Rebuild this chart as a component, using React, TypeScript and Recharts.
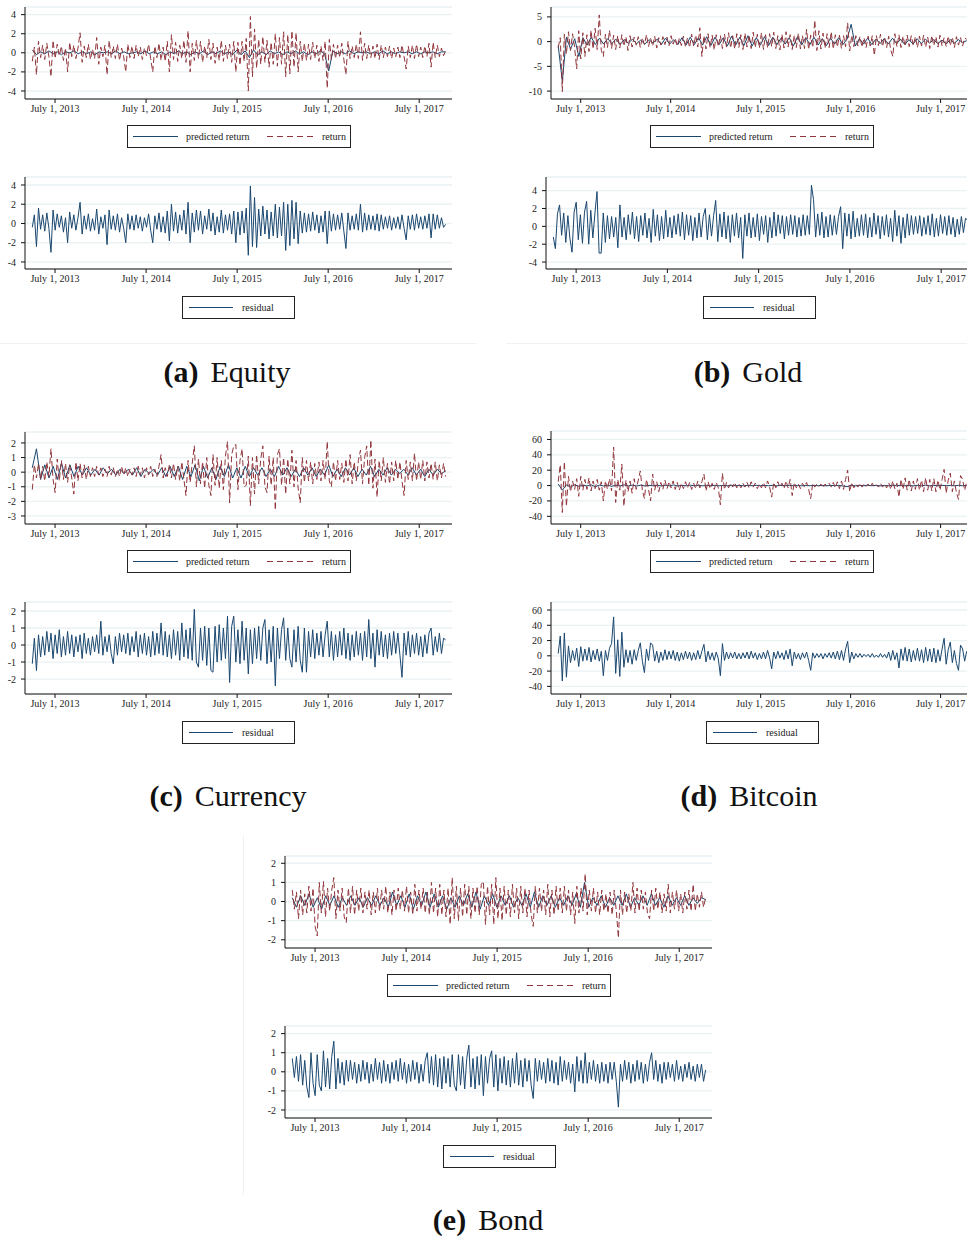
import React from 'react';
import { CartesianGrid, Line, LineChart, XAxis, YAxis } from 'recharts';

// sample dates run evenly from spring 2013 to autumn 2017
const START = 2013.25;
const END = 2017.79;
const X_DOMAIN = [2013.17, 2017.86];
const X_TICKS = [2013.5, 2014.5, 2015.5, 2016.5, 2017.5];

// Equity
const EQUITY_PRED = [
  0.3, -0.2, 0.1, -0.1, 0.2, -0.1, 0.1, -0.2, 0.1, 0.0, 0.2, -0.1, 0.1, -0.1, 0.1, -0.2, 0.1, 0.0, 0.1, -0.1,
  0.2, -0.1, 0.1, -0.1, 0.0, 0.1, -0.1, 0.2, -0.1, 0.1, -0.1, 0.1, -0.2, 0.1, -0.1, 0.2, -0.1, 0.1, -0.2, 0.1,
  -0.1, 0.2, -0.2, 0.1, -0.1, 0.2, -0.1, 0.1, -0.2, 0.3, -0.2, 0.2, -0.5, 0.3, -0.2, 0.1, -0.2, 0.2, -0.1, 0.1,
  -0.2, 0.1, -0.1, 0.2, -0.1, 0.1, -0.2, 0.1, -0.1, 0.2, -0.1, -1.9, 0.2, -0.1, 0.1, -0.1, 0.2, -0.1, 0.1, 0.0,
  0.1, -0.1, 0.1, -0.1, 0.2, -0.1, 0.1, -0.1, 0.1, 0.0, 0.1, -0.1, 0.1, -0.1, 0.1, 0.0, 0.1, -0.1, 0.1, 0.1,
];
const EQUITY_RETURN = [
  -0.9, 0.6, -2.3, 1.2, -0.5, 0.8, -0.7, 1.0, -0.4, -2.5, 1.3, -0.6, 0.9, -0.3, 0.7, -0.8, 0.5, -2.0, 1.1, -0.4,
  0.8, -0.6, 0.5, 2.1, -1.0, 0.7, -0.5, 0.9, -0.7, 0.4, -0.6, 1.6, -1.2, 0.6, -0.4, 0.8, -2.3, 1.3, -0.5, 0.7,
  -0.6, 0.9, -0.8, 0.5, -0.4, -2.0, 0.9, -0.5, 0.7, -0.6, 0.8, -0.4, 0.6, -0.7, 0.5, -0.3, 0.9, -0.6, -2.0, 0.7,
  -0.5, 1.0, -0.8, 0.6, -0.9, 1.2, -2.0, 1.9, -0.7, 1.1, -0.9, 0.8, -0.6, 1.3, -1.0, 2.3, -2.0, 1.0, -0.8, 1.3,
  -0.6, 1.2, -1.0, 0.7, -0.5, 1.4, -0.7, 1.0, -1.1, 0.6, -0.8, 1.3, -0.9, 0.8, -0.6, 0.9, -1.0, 1.2, -2.0, 1.1,
  -1.3, 1.2, -0.9, 1.5, -4.0, 3.8, -2.5, 2.5, -1.6, 1.4, -1.2, 1.7, -1.0, 1.3, -1.5, 1.1, -1.2, 2.0, -1.4, 1.6,
  -1.2, 2.2, -2.5, 1.9, -2.2, 2.3, -1.5, 2.1, -2.0, 1.2, -0.9, 1.0, -0.8, 0.9, -0.7, 1.1, -0.6, 0.8, -0.9, 0.7,
  -0.8, 1.2, -3.7, 1.4, -0.7, 0.9, -0.6, 0.8, -0.5, 1.0, -0.7, -2.3, 1.2, -0.6, 0.7, -0.5, 0.9, -0.6, 2.2, -0.8,
  1.0, -0.6, 0.8, -0.5, 0.7, -0.6, 0.9, -0.7, 0.8, -0.5, 0.6, -0.4, 0.7, -0.6, 0.5, -0.4, 0.6, -0.5, 0.8, -0.4,
  -1.7, 0.7, -0.5, 0.8, -0.6, 0.9, -0.4, 0.6, -0.5, 0.7, -0.4, 1.0, -1.5, 1.1, -0.5, 0.8, -0.4, 0.5, -0.3, 0.2,
];
const EQUITY_RESID = [
  -0.4, 0.9, -2.4, 1.6, -0.6, 0.9, -0.8, 1.1, -0.5, -3.0, 1.4, -0.7, 1.0, -0.4, 0.8, -0.9, 0.6, -2.0, 1.2, -0.5,
  0.9, -0.7, 0.6, 2.2, -1.1, 0.8, -0.6, 1.0, -0.8, 0.5, -0.7, 1.5, -1.1, 0.7, -0.5, 0.9, -2.2, 1.4, -0.6, 0.8,
  -0.7, 1.0, -0.9, 0.6, -0.5, -2.0, 1.0, -0.6, 0.8, -0.7, 0.9, -0.5, 0.7, -0.8, 0.6, -0.4, 1.0, -0.7, -2.0, 0.8,
  -0.6, 1.1, -0.9, 0.7, -1.0, 1.3, -1.8, 2.0, -0.8, 1.2, -1.0, 0.9, -0.7, 1.4, -1.1, 2.2, -2.0, 1.1, -0.9, 1.4,
  -0.7, 1.3, -1.1, 0.8, -0.6, 1.5, -0.8, 1.1, -1.2, 0.7, -0.9, 1.4, -1.0, 0.9, -0.7, 1.0, -1.1, 1.3, -2.0, 1.2,
  -1.2, 1.3, -1.0, 1.6, -3.3, 3.9, -2.4, 2.7, -2.5, 1.5, -1.3, 1.8, -1.1, 1.4, -1.6, 1.2, -1.3, 2.0, -1.5, 1.7,
  -1.3, 2.2, -2.8, 2.0, -2.3, 2.4, -1.6, 2.2, -2.1, 1.3, -1.0, 1.1, -0.9, 1.0, -0.8, 1.2, -0.7, 0.9, -1.0, 0.8,
  -0.9, 1.3, -2.1, 1.3, -0.8, 1.0, -0.7, 0.9, -0.6, 1.1, -0.8, -2.6, 1.1, -0.7, 0.8, -0.6, 1.0, -0.7, 2.0, -0.9,
  1.1, -0.7, 0.9, -0.6, 0.8, -0.7, 1.0, -0.8, 0.9, -0.6, 0.7, -0.5, 0.8, -0.7, 0.6, -0.5, 0.7, -0.6, 0.9, -0.5,
  -1.7, 0.8, -0.6, 0.9, -0.7, 1.0, -0.5, 0.7, -0.6, 0.8, -0.5, 1.0, -1.5, 1.0, -0.6, 0.9, -0.5, 0.6, -0.4, -0.1,
];

// Gold
const GOLD_PRED = [
  -0.8, -8.0, 0.9, -1.5, 0.6, -3.0, 0.8, -0.7, 0.9, -0.6, 0.7, -0.5, 0.6, -0.4, 0.5, -0.6, 0.4, -0.3, 0.5, -0.4,
  0.3, -0.5, 0.4, -0.3, 0.5, -0.6, 0.7, -0.5, 0.4, -0.6, 0.8, -0.7, 0.9, -0.6, 0.8, -0.7, 1.0, -0.8, 0.9, -0.6,
  0.8, -0.9, 1.1, -0.7, 0.9, -0.8, 1.2, -0.9, 0.8, -0.7, 1.0, -0.8, 0.9, -0.6, 0.7, -0.5, 0.8, -0.9, 1.0, -0.7,
  0.8, -0.6, 0.9, -0.7, 0.6, -0.8, 0.7, -0.5, 0.8, -0.6, 0.5, 3.5, -0.9, 0.6, -0.5, 0.7, -0.6, 0.5, -0.4, 0.6,
  -0.5, 0.7, -0.4, 0.5, -0.6, 0.4, -0.5, 0.6, -0.4, 0.5, -0.3, 0.4, -0.4, 0.3, -0.5, 0.4, -0.3, 0.4, -0.2, 0.2,
];
const GOLD_RETURN = [
  -1.2, 0.8, -10.1, 1.5, -2.5, 2.0, -1.8, 1.6, -1.2, -5.5, 2.2, -3.5, 1.8, -3.0, 1.4, -2.0, 2.3, -1.5, 2.7, -1.6,
  5.4, -1.8, -3.0, 1.5, -1.2, 2.3, -1.4, 1.3, -1.6, 1.2, -1.3, 1.4, -0.9, 1.0, -1.8, 1.2, -1.1, 0.9, -0.7, 1.0,
  -1.2, 0.8, -0.6, 1.4, -1.0, 0.7, -0.9, 1.1, -1.3, 0.8, -0.7, 1.0, -0.6, 0.9, -0.8, 1.2, -0.5, 0.7, -0.9, 0.6,
  -0.8, 1.1, -1.0, 0.8, -1.2, 1.5, -0.9, 1.3, -1.1, 2.8, -3.0, 1.2, -1.5, 1.6, -1.2, 1.3, -1.7, 1.4, -1.0, 1.2,
  -1.4, 1.5, -1.1, 1.8, -1.3, 1.2, -1.5, 1.6, -1.2, 1.4, -1.6, 1.7, -1.1, 1.3, -1.4, 1.9, -1.2, 1.5, -1.3, 1.8,
  -1.6, 1.4, -1.2, 1.6, -1.0, 1.9, -1.4, 1.2, -1.7, 1.5, -1.3, 2.0, -1.1, 1.4, -1.6, 1.3, -1.2, 1.7, -1.5, 1.2,
  -1.4, 2.5, -1.6, 1.3, -1.2, 4.3, -1.8, 2.2, -1.5, 1.7, -1.3, 1.6, -1.2, 2.0, -1.5, 1.4, -1.1, 1.3, -1.4, 1.2,
  -1.0, 3.8, -1.9, 1.3, -1.0, 1.2, -0.9, 1.0, -1.1, 0.8, -1.2, 1.1, -0.9, 1.2, -2.8, 1.2, -0.8, 1.5, -1.0, 0.9,
  -1.2, 1.1, -1.7, -3.0, 1.6, -1.0, 1.4, -1.2, 1.1, -0.9, 1.3, -1.0, 1.2, -0.8, 1.0, -1.2, 1.1, -0.9, 1.3, -1.1,
  0.9, -1.4, 1.2, -0.8, 1.0, -1.1, 1.3, -0.9, 0.8, -1.0, 1.1, -0.8, 0.9, -1.2, 1.0, -0.7, 0.8, -0.9, 0.7, 0.5,
];
const GOLD_RESID = [
  -1.2, -2.5, 1.4, 2.4, -1.0, 1.5, -1.8, 1.2, -1.4, -2.9, 1.6, 2.7, -1.5, 1.3, -1.9, 1.6, 2.8, -2.0, 1.8, -1.3,
  1.5, 3.9, -3.0, -3.0, 1.5, -1.8, 1.2, -1.4, 1.1, -1.2, 1.0, -2.4, 2.4, -1.2, 1.0, -1.5, 1.3, -0.9, 1.6, -1.4,
  1.1, -1.7, 1.2, -1.0, 1.5, -1.3, 0.9, -1.8, 1.9, -1.1, 1.3, -1.6, 1.1, -1.4, 1.8, -1.2, 1.0, -1.3, 1.2, -0.9,
  1.4, -1.1, 1.6, -1.5, 1.3, -1.0, 1.2, -1.6, 1.0, -1.3, 1.5, -1.2, 1.1, 2.0, -1.5, 1.3, -1.1, 1.2, 2.9, -1.7,
  1.4, -1.2, 1.6, -1.4, 1.2, -1.8, 1.3, -1.1, 1.5, -1.3, 1.0, -3.6, 1.3, -1.1, 1.5, -1.3, 1.0, -1.2, 1.4, -1.6,
  1.1, -0.9, 1.2, -1.8, 1.0, -1.3, 1.6, -1.1, 1.3, -0.8, 1.2, -1.4, 1.1, -1.0, 1.3, -0.9, 1.2, -1.2, 1.0, -1.1,
  1.3, -1.0, 1.2, -0.9, 4.6, 3.0, -1.2, 1.4, -1.0, 1.6, -1.3, 1.1, -1.2, 1.3, -1.0, 1.2, -0.9, 1.1, 2.2, -2.5,
  1.5, -1.1, 1.4, -1.4, 1.7, -1.2, 0.9, -1.1, 1.3, -1.0, 1.4, -1.3, 1.0, -1.2, 1.5, -0.9, 1.2, -1.4, 1.1, -1.0,
  1.3, -1.2, 0.9, -1.7, 1.8, -1.1, 1.2, -1.9, 1.0, -1.3, 1.4, -1.0, 1.2, -0.9, 1.1, -0.8, 1.2, -1.1, 1.0, -0.9,
  1.2, -1.0, 1.4, -1.2, 0.9, -1.1, 1.3, -0.8, 1.1, -1.0, 1.2, -0.9, 1.0, -1.2, 0.8, -0.9, 1.1, -0.7, 0.9, 0.7,
];

// Currency
const CURRENCY_PRED = [
  0.3, 1.6, -0.5, 0.5, -0.4, 0.4, -0.5, 0.6, -0.4, 0.5, -0.3, 0.4, -0.2, 0.3, -0.2, 0.2, -0.2, 0.3, -0.1, 0.2,
  -0.2, 0.2, -0.1, 0.2, -0.2, 0.3, -0.3, 0.2, -0.1, 0.2, -0.2, 0.3, -0.3, 0.4, -0.3, 0.4, -0.5, 0.4, -0.3, 0.5,
  -0.6, 0.4, -0.4, 0.3, -0.5, 0.4, -0.3, 0.5, -0.4, 0.3, -0.4, 0.4, -0.3, 0.3, -0.2, 0.3, -0.3, 0.2, -0.3, 0.4,
  -0.2, 0.3, -0.3, 0.2, -0.3, 0.3, -0.2, 0.3, -0.3, 0.2, -0.2, 0.5, -0.3, 0.2, -0.3, 0.3, -0.2, 0.3, -0.3, 0.2,
  -0.2, 0.4, -0.3, 0.2, -0.2, 0.3, -0.2, 0.2, -0.1, 0.2, -0.2, 0.3, -0.2, 0.2, -0.3, 0.2, -0.2, 0.2, -0.1, 0.1,
];
const CURRENCY_RETURN = [
  -1.2, 0.5, -0.4, 0.6, -0.5, 0.4, -0.6, 0.7, -0.3, 1.6, -0.5, -1.4, 0.9, -0.6, 0.8, -0.5, 0.6, -0.7, 0.5, -0.4,
  -1.5, 0.7, -0.6, 0.6, -0.4, 0.5, -0.5, 0.4, -0.3, 0.3, -0.3, 0.4, -0.2, 0.3, -0.3, 0.2, -0.3, 0.4, -0.2, 0.3,
  -0.3, 0.2, -0.3, 0.4, -0.2, 0.3, -0.3, 0.2, -0.2, 0.3, -0.3, 0.4, -0.2, 0.3, -0.4, 0.3, -0.2, 0.4, -0.3, 0.2,
  -0.3, 0.4, 1.2, -0.4, 0.3, -0.3, 0.5, -0.4, 0.6, -0.5, 0.4, -0.6, 0.7, -0.5, -1.6, 0.8, -0.7, 0.6, 1.8, -1.0,
  0.9, -0.8, 0.7, -1.1, 1.0, -0.9, -1.6, 1.2, -0.9, 1.0, -1.1, 0.8, -1.2, 1.1, 2.1, -2.1, 1.2, 1.8, 1.9, -1.2,
  0.8, 1.6, -1.0, -0.9, 1.1, -2.3, 1.0, -1.5, 1.2, -0.8, 0.9, 1.8, -1.0, -1.4, 1.1, -0.9, 1.0, -2.6, 1.2, 1.6,
  -0.9, 1.0, -1.5, 0.9, -0.8, 1.5, -1.0, 0.8, -1.1, -2.1, 1.0, -0.7, 0.8, -0.6, 0.7, -0.8, 0.6, -0.5, 0.7, -0.6,
  0.8, -0.5, 2.1, -0.6, -1.0, 0.7, -0.6, 0.8, -0.5, 0.6, -0.7, 0.9, -0.6, 1.2, -0.8, 0.7, -0.6, 0.8, 1.5, -0.8,
  1.0, 1.8, -0.9, 2.2, -1.1, 0.9, -1.7, 0.8, -0.6, 1.0, -0.7, 0.6, -0.8, 0.7, -0.6, 0.8, -0.5, 0.7, -0.6, -1.6,
  0.8, -0.5, 0.7, -0.6, 1.3, -0.6, 0.7, -0.5, 0.8, -0.6, 0.7, -0.4, 0.6, -0.5, 0.7, -0.6, 0.5, -0.4, 0.6, -0.3,
];
const CURRENCY_RESID = [
  -1.1, 0.4, -1.5, 0.6, -0.7, 0.5, -0.6, 0.8, -0.4, 0.7, -0.8, 0.6, -0.5, 0.9, -0.7, 0.5, -0.6, 0.8, -0.5, 0.6,
  -0.7, 0.5, -0.4, 0.6, -0.8, 0.7, -0.5, 0.4, -0.6, 0.5, -0.4, 0.6, -0.5, 1.4, -0.6, 0.5, -0.4, 0.6, -0.5, -1.1,
  0.5, -0.6, 0.7, -0.4, 0.6, -0.5, 0.7, -0.6, 0.5, -0.4, 0.8, -0.7, 0.6, -0.5, 0.7, -0.6, 0.5, -0.7, 0.8, -0.6,
  0.7, -0.5, 1.3, -0.6, 0.8, -0.7, 0.6, -0.8, 0.9, -0.6, 0.8, -0.9, 1.3, -0.7, 0.9, -0.8, 1.0, -0.9, 2.1, -1.0,
  -1.3, 1.0, -0.9, 1.1, -1.2, 1.0, -1.5, -1.6, 1.1, -1.0, 1.2, -0.9, 1.0, -0.8, 1.7, -2.2, 1.1, 1.7, -1.0, 0.9,
  -1.1, 1.4, -0.9, 1.0, -1.7, 0.9, -1.1, 1.0, -0.8, 1.1, -0.9, 1.0, 1.5, -1.1, 0.9, -1.0, 1.1, -2.4, 1.0, -0.8,
  0.9, 1.6, -0.9, 1.0, -0.8, -1.3, 0.9, -1.0, 1.1, -0.9, -1.6, 1.0, -1.6, 0.8, -0.7, 0.9, -0.8, 0.7, -0.6, 0.8,
  -0.7, 0.6, 1.4, -0.7, 0.8, -0.9, 0.6, -0.7, 0.8, -0.6, 1.0, -0.8, 0.7, -0.9, 0.6, -0.7, 0.8, -0.6, 0.7, -0.9,
  0.8, -0.7, 1.5, -0.8, 0.7, -1.3, 0.9, -0.6, 0.8, -0.7, 0.6, -0.8, 0.7, -0.6, 0.8, -0.5, 0.7, -0.6, -1.9, 0.7,
  -0.6, 0.8, -0.7, 0.6, -0.5, 0.7, -0.6, 0.5, -0.7, 0.6, -0.5, 0.7, 1.0, -0.6, 0.5, -0.4, 0.7, -0.5, 0.4, 0.3,
];

// Bitcoin
const BITCOIN_PRED = [
  2, -6, 1, -2, 1, -1, 0.5, -0.5, 1, -1.5, 0.5, -0.5, 0.5, -1, 0.5, -0.5, 1, -0.5, 0.5, -0.5,
  0.5, -0.5, 0.3, -0.3, 0.5, -0.5, 0.3, -0.3, 0.8, -0.5, 0.3, -0.3, 0.5, -0.3, 0.3, -0.3, 0.2, -0.2, 0.3, -0.3,
  0.2, -0.2, 0.3, -0.2, 0.2, -0.3, 0.2, -0.2, 0.3, -0.2, 0.2, -0.2, 0.3, -0.3, 0.2, -0.2, 0.3, -0.2, 0.2, -0.3,
  0.2, -0.2, 0.3, -0.2, 0.2, -0.3, 0.2, -0.2, 0.3, -0.5, -1.5, 0.3, -0.3, 0.2, -0.2, 0.3, -0.2, 0.2, -0.3, 0.2,
  -0.2, 0.3, -0.3, 0.4, -0.3, 0.3, -0.4, 0.3, -0.3, 0.4, -0.3, 0.3, -0.2, 0.3, -0.2, 0.2, -0.3, 0.3, -0.2, 0.2,
];
const BITCOIN_RETURN = [
  5, 27, -35, 31, -27, 12, -8, 6, -5, 9, -14, 12, -6, 8, -5, 10, -7, 6, -4, 8,
  -6, 5, -20, 6, -5, 9, -7, 50, -22, 8, -6, 28, -27, 7, -8, 6, -10, 9, -5, 7,
  19, -6, -17, 8, -5, -20, 15, -6, 5, -8, 4, -5, 7, -4, 5, -3, 6, -5, 4, -6,
  3, -4, 5, -3, 4, -5, 3, -4, 6, -3, 5, 15, -7, 5, -4, 3, -5, 4, -3, -25,
  16, -5, 4, -3, 3, -2, 4, -3, 2, -3, 3, -2, 4, -3, 5, -2, 3, -4, 2, -3,
  4, -3, 6, -2, -15, 4, -3, 5, -2, 3, -4, 6, -3, 8, -13, 4, -3, 2, -4, 3,
  -2, 4, -5, -17, 3, -2, 2, -1, 2, -3, 2, -1, 3, -2, 4, -3, 5, -4, 6, -5,
  8, 20, -8, 4, -3, 2, -2, 3, -2, 2, -1, 2, -2, 3, -2, 1, -2, 3, -2, 2,
  -3, 4, -5, 6, -4, 3, -15, 8, -5, 10, -6, 8, -7, 6, -5, 9, -6, 7, -8, 10,
  -6, 8, -7, 9, -8, 7, -6, 8, 21, -10, 7, 16, -8, 6, -9, -18, 13, 8, -6, 5,
];
const BITCOIN_RESID = [
  3, 26, -33, 30, -28, 13, -9, 7, -6, 10, -14, 12, -7, 9, -6, 11, -8, 7, -5, 9,
  -7, 6, -26, 7, -6, 10, 16, 51, -23, 21, -27, 31, -15, 8, -9, 7, -11, 8, -6, 7,
  17, -7, -22, 9, -6, 17, 14, -7, 6, -9, 5, -6, 8, -5, 6, -4, 7, -6, 5, -7,
  4, -5, 6, -4, 5, -6, 4, -5, 7, -4, 6, 15, -8, 6, -5, 4, -6, 5, -4, -26,
  16, -6, 5, -4, 4, -3, 5, -4, 3, -4, 4, -3, 5, -4, 6, -3, 4, -5, 3, -4,
  5, -4, 7, -3, -17, 5, -4, 6, -3, 4, -5, 7, -4, 9, -13, 5, -4, 3, -5, 4,
  -3, 5, -6, -19, 4, -3, 3, -2, 3, -4, 3, -2, 4, -3, 5, -4, 6, -5, 7, -6,
  9, 19, -9, 5, -4, 3, -2, 3, -2, 2, -1, 2, -2, 3, -2, 1, -2, 3, -2, 2,
  -3, 5, -6, 7, -5, 4, -16, 9, -6, 11, -7, 9, -8, 7, -6, 10, -7, 8, -9, 11,
  -7, 9, -8, 10, -9, 8, -7, 9, 23, -11, 8, 18, -9, 7, -10, -19, 14, 9, -7, 6,
];

// Bond
const BOND_PRED = [
  0.2, -0.3, 0.3, -0.2, 0.4, -0.3, 0.2, -0.4, 0.3, -0.2, 0.3, -0.3, 0.2, -0.2, 0.3, -0.2, 0.2, -0.3, 0.2, -0.2,
  0.3, -0.2, 0.2, -0.3, 0.5, -0.2, 0.3, -0.3, 0.4, -0.4, 0.3, -0.2, 0.5, -0.3, 0.4, -0.3, 0.3, -0.4, 0.2, -0.3,
  0.3, -0.2, 0.4, -0.3, 0.5, -0.4, 0.3, -0.2, 0.4, -0.3, 0.3, -0.2, 0.3, -0.3, 0.2, -0.2, 0.4, -0.3, 0.5, -0.3,
  0.3, -0.2, 0.3, -0.3, 0.2, -0.2, 0.3, -0.2, 0.4, -0.3, 1.0, -0.3, 0.2, -0.2, 0.3, -0.3, 0.2, -0.2, 0.3, -0.2,
  0.4, -0.3, 0.2, -0.2, 0.3, -0.2, 0.4, -0.2, 0.2, -0.3, 0.3, -0.2, 0.2, -0.2, 0.3, -0.2, 0.2, -0.1, 0.2, 0.1,
];
const BOND_RETURN = [
  0.6, -0.4, 0.5, -0.9, 0.6, -0.7, 0.4, -0.6, 0.8, -0.5, 0.7, -1.3, -1.8, 1.0, -0.6, 1.05, -0.8, 0.7, -0.5, 0.6,
  1.25, -0.9, 0.6, -0.5, 0.7, -0.8, -1.1, 0.7, -0.6, 0.8, -0.7, 0.6, -0.5, 0.7, -0.6, 0.5, -0.4, 0.6, -0.7, 0.5,
  -0.6, 0.7, -0.5, 0.6, -0.4, 0.8, -0.6, 0.5, -0.7, 0.6, -0.5, 0.7, -0.4, 0.6, -0.5, 0.8, -0.6, 0.5, -0.7, 0.9,
  -0.5, 0.6, -0.4, 0.7, -0.6, 0.5, -0.7, 1.0, -0.6, 0.7, -0.8, 0.9, -0.7, 0.6, -0.8, 0.7, -1.2, 1.25, -0.9, 0.8,
  -1.0, 0.7, -0.8, 0.9, -0.7, 0.8, -0.9, 0.7, -0.6, 0.8, -0.7, 0.9, 1.05, -1.2, 0.8, -0.7, 0.9, -1.2, 1.25, -0.9,
  0.7, -1.0, 0.8, -0.7, 0.6, -0.8, 0.9, -0.6, 0.7, -0.9, 0.8, -0.6, 0.7, -0.8, 0.6, -0.7, -1.3, 0.8, -0.6, 0.7,
  -0.5, 0.6, -0.7, 0.9, -0.8, 0.6, -0.7, 0.8, -0.5, 0.7, -0.6, 0.8, -0.5, 0.6, -0.7, 0.5, -1.15, 0.8, -0.6, 0.7,
  -0.5, 1.45, -0.7, 0.6, -0.5, 0.7, -0.6, 0.5, -0.7, 0.6, -0.5, 0.4, -0.6, 0.5, -0.7, 0.6, -0.5, -1.9, 0.6, -0.7,
  0.5, -0.6, 0.4, -0.5, 1.0, -0.6, 0.7, -0.5, 0.6, -0.4, 0.5, -0.6, -0.9, 0.6, -0.5, 0.7, -0.4, 0.5, -0.6, 0.4,
  -0.5, 0.9, -0.6, 0.5, -0.4, 0.6, -0.5, 0.4, -0.6, 0.5, -0.4, 0.6, -0.5, 0.9, -0.5, 0.4, -0.3, 0.5, -0.3, 0.2,
];
const BOND_RESID = [
  0.7, -0.3, 0.8, -0.5, 0.9, -0.7, 0.6, -0.8, -1.35, 1.0, -0.6, -1.25, 0.9, -0.7, -1.0, 1.1, -0.8, 0.7, -0.9, 0.8,
  1.6, -0.9, 0.7, -0.6, 0.5, -0.7, 0.6, -0.5, 0.6, -0.4, 0.5, -0.6, 0.4, -0.5, 0.6, -0.4, 0.5, -0.6, 0.4, -0.5,
  0.7, -0.4, 0.5, -0.6, 0.6, -0.5, 0.4, -0.6, 0.5, -0.4, 0.6, -0.5, 0.7, -0.4, 0.5, -0.6, 0.4, -0.5, 0.6, -0.4,
  0.5, -0.6, 0.4, -0.5, 0.6, 1.0, -0.6, 0.8, -0.7, 0.9, -0.8, 0.7, -0.9, 0.8, -0.6, 0.7, -0.8, 0.9, -0.7, -1.0,
  0.9, -0.7, 0.8, -0.9, 0.7, 1.4, -0.8, 0.7, -0.9, 0.8, -0.7, 0.9, -1.25, 0.8, -0.6, 0.7, 1.1, -0.8, 0.9, -1.0,
  0.7, -0.6, 0.8, -0.7, 0.6, -0.8, 0.7, -0.6, 1.0, -0.7, 0.6, -0.8, 0.7, -0.5, 0.6, -0.7, -1.4, 0.7, -0.5, 0.6,
  -0.4, 0.5, -0.6, 0.7, -0.5, 0.6, -0.6, 0.5, -0.7, 0.8, -0.5, 0.6, -0.4, 0.5, -0.6, 0.4, -1.05, 0.8, -0.5, 0.6,
  -0.6, 1.0, -0.6, 0.5, -0.4, 0.6, -0.5, 0.4, -0.6, 0.5, -0.5, 0.4, -0.6, 0.5, -0.4, 0.5, -0.5, -1.85, 0.4, -0.5,
  0.6, -0.4, 0.5, -0.6, 0.4, -0.5, 0.6, -0.4, 0.5, -0.6, 0.4, -0.5, 0.5, 1.0, -0.4, 0.6, -0.5, 0.4, -0.6, 0.5,
  -0.4, 0.5, -0.3, 0.4, -0.5, 0.6, -0.4, 0.3, -0.5, 0.4, -0.3, 0.5, -0.4, 0.3, -0.5, 0.4, -0.3, 0.4, -0.5, 0.1,
];

const FONT = '"Liberation Serif", "Times New Roman", serif';
const NAVY = '#1a476f';
const MAROON = '#90353b';
const GRID = '#eaf2f3';

const Y_AXIS_W = 40;
const X_AXIS_H = 26;
const PAD_TOP = 4;

const toRows = (values: number[]) =>
  values.map((v, i) => ({ t: START + (i * (END - START)) / (values.length - 1), v }));

type Series = { values: number[]; color: string; dashed?: boolean };

interface PanelProps {
  axisX: number;
  top: number;
  bottom: number;
  plotW?: number;
  yDomain: [number, number];
  yTicks: number[];
  series: Series[];
}

const TimePanel: React.FC<PanelProps> = ({ axisX, top, bottom, plotW = 427, yDomain, yTicks, series }) => {
  const plotH = bottom - top;
  const tickStyle = { fontSize: 10, fill: '#222', fontFamily: FONT };
  return (
    <div style={{ position: 'absolute', left: axisX - Y_AXIS_W, top: top - PAD_TOP }}>
      <LineChart
        width={Y_AXIS_W + plotW}
        height={plotH + PAD_TOP + X_AXIS_H}
        margin={{ top: PAD_TOP, right: 0, bottom: 0, left: 0 }}
      >
        <CartesianGrid vertical={false} stroke={GRID} strokeWidth={1.3} />
        <XAxis
          type="number"
          dataKey="t"
          domain={X_DOMAIN}
          ticks={X_TICKS}
          interval={0}
          allowDataOverflow
          height={X_AXIS_H}
          tickSize={4}
          tickMargin={2}
          stroke="#111"
          tick={tickStyle}
          tickFormatter={(v: number) => `July 1, ${Math.floor(v)}`}
        />
        <YAxis
          type="number"
          domain={yDomain}
          ticks={yTicks}
          interval={0}
          allowDataOverflow
          width={Y_AXIS_W}
          tickSize={4}
          tickMargin={5}
          stroke="#111"
          tick={tickStyle}
        />
        {series.map((s, k) => (
          <Line
            key={k}
            data={toRows(s.values)}
            dataKey="v"
            type="linear"
            stroke={s.color}
            strokeWidth={1}
            strokeDasharray={s.dashed ? '6 3' : undefined}
            dot={false}
            isAnimationActive={false}
          />
        ))}
      </LineChart>
    </div>
  );
};

const Sample: React.FC<{ x: number; len: number; color: string; dashed?: boolean }> = ({ x, len, color, dashed }) => (
  <svg style={{ position: 'absolute', left: x, top: 9 }} width={len} height={3}>
    <line x1={0} y1={1.5} x2={len} y2={1.5} stroke={color} strokeWidth={1.2} strokeDasharray={dashed ? '6 4' : undefined} />
  </svg>
);

const legendText: React.CSSProperties = {
  position: 'absolute',
  top: 0,
  lineHeight: '21px',
  fontSize: 10,
  fontFamily: FONT,
  color: '#222',
  whiteSpace: 'nowrap',
};

const PairLegend: React.FC<{ left: number; top: number }> = ({ left, top }) => (
  <div style={{ position: 'absolute', left, top, width: 222, height: 21, border: '1px solid #222', background: '#fff' }}>
    <Sample x={5} len={45} color={NAVY} />
    <span style={{ ...legendText, left: 58 }}>predicted return</span>
    <Sample x={139} len={47} color={MAROON} dashed />
    <span style={{ ...legendText, left: 194 }}>return</span>
  </div>
);

const ResidLegend: React.FC<{ left: number; top: number }> = ({ left, top }) => (
  <div style={{ position: 'absolute', left, top, width: 111, height: 21, border: '1px solid #222', background: '#fff' }}>
    <Sample x={6} len={44} color={NAVY} />
    <span style={{ ...legendText, left: 59 }}>residual</span>
  </div>
);

const Caption: React.FC<{ cx: number; baseline: number; tag: string; name: string }> = ({ cx, baseline, tag, name }) => (
  <div
    style={{
      position: 'absolute',
      left: cx - 150,
      width: 300,
      top: baseline - 27,
      textAlign: 'center',
      fontFamily: FONT,
      fontSize: 30,
      lineHeight: '34px',
      color: '#111',
    }}
  >
    <b>({tag})</b>
    <span style={{ marginLeft: 12 }}>{name}</span>
  </div>
);

const pair = (pred: number[], ret: number[]): Series[] => [
  { values: pred, color: NAVY },
  { values: ret, color: MAROON, dashed: true },
];
const single = (resid: number[]): Series[] => [{ values: resid, color: NAVY }];

export default function App() {
  return (
    <div
      style={{
        position: 'absolute',
        left: 0,
        top: 0,
        width: 967,
        height: 1238,
        overflow: 'hidden',
        background: '#fff',
      }}
    >
      {/* faint subfigure frames */}
      <div style={{ position: 'absolute', left: 0, top: 343, width: 476, height: 1, background: '#eef2f2' }} />
      <div style={{ position: 'absolute', left: 506, top: 343, width: 461, height: 1, background: '#eef2f2' }} />
      <div style={{ position: 'absolute', left: 243, top: 835, width: 1, height: 360, background: '#eef2f2' }} />

      {/* (a) Equity */}
      <TimePanel axisX={25} top={7} bottom={99} yDomain={[-4.84, 4.8]} yTicks={[-4, -2, 0, 2, 4]} series={pair(EQUITY_PRED, EQUITY_RETURN)} />
      <PairLegend left={127} top={125} />
      <TimePanel axisX={25} top={177} bottom={269} yDomain={[-4.73, 4.83]} yTicks={[-4, -2, 0, 2, 4]} series={single(EQUITY_RESID)} />
      <ResidLegend left={182} top={296} />
      <Caption cx={227} baseline={382} tag="a" name="Equity" />

      {/* (b) Gold */}
      <TimePanel axisX={551} top={7} bottom={99} plotW={422} yDomain={[-11.6, 7.0]} yTicks={[-10, -5, 0, 5]} series={pair(GOLD_PRED, GOLD_RETURN)} />
      <PairLegend left={650} top={125} />
      <TimePanel axisX={546} top={177} bottom={269} plotW={428} yDomain={[-4.78, 5.53]} yTicks={[-4, -2, 0, 2, 4]} series={single(GOLD_RESID)} />
      <ResidLegend left={703} top={296} />
      <Caption cx={748} baseline={382} tag="b" name="Gold" />

      {/* (c) Currency */}
      <TimePanel axisX={25} top={432} bottom={524} yDomain={[-3.55, 2.75]} yTicks={[-3, -2, -1, 0, 1, 2]} series={pair(CURRENCY_PRED, CURRENCY_RETURN)} />
      <PairLegend left={127} top={550} />
      <TimePanel axisX={25} top={602} bottom={694} yDomain={[-2.88, 2.53]} yTicks={[-2, -1, 0, 1, 2]} series={single(CURRENCY_RESID)} />
      <ResidLegend left={182} top={721} />
      <Caption cx={228} baseline={806} tag="c" name="Currency" />

      {/* (d) Bitcoin */}
      <TimePanel axisX={551} top={431} bottom={524} plotW={422} yDomain={[-50, 71]} yTicks={[-40, -20, 0, 20, 40, 60]} series={pair(BITCOIN_PRED, BITCOIN_RETURN)} />
      <PairLegend left={650} top={550} />
      <TimePanel axisX={551} top={602} bottom={694} plotW={422} yDomain={[-50, 70.5]} yTicks={[-40, -20, 0, 20, 40, 60]} series={single(BITCOIN_RESID)} />
      <ResidLegend left={706} top={721} />
      <Caption cx={749} baseline={806} tag="d" name="Bitcoin" />

      {/* (e) Bond */}
      <TimePanel axisX={285} top={856} bottom={948} yDomain={[-2.43, 2.38]} yTicks={[-2, -1, 0, 1, 2]} series={pair(BOND_PRED, BOND_RETURN)} />
      <PairLegend left={387} top={974} />
      <TimePanel axisX={285} top={1026} bottom={1118} yDomain={[-2.42, 2.4]} yTicks={[-2, -1, 0, 1, 2]} series={single(BOND_RESID)} />
      <ResidLegend left={443} top={1145} />
      <Caption cx={488} baseline={1230} tag="e" name="Bond" />
    </div>
  );
}
